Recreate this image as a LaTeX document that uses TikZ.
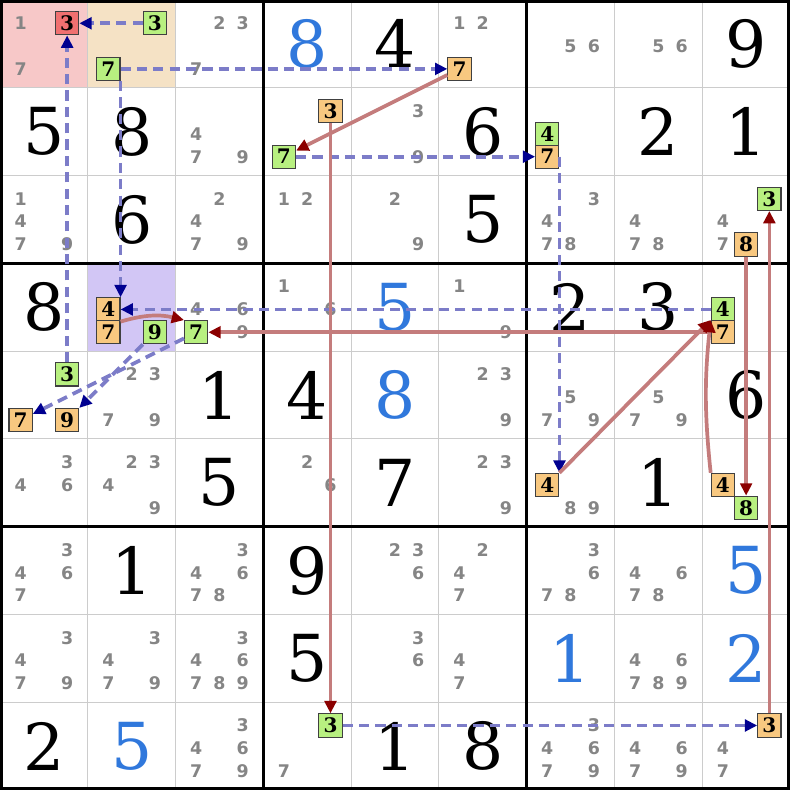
\documentclass[tikz,border=0pt]{standalone}
\usepackage{fontspec}
\newfontfamily\bigf{DejaVu Serif}
\newfontfamily\candf{DejaVu Sans}
\newfontfamily\boxf{DejaVu Serif}
\usetikzlibrary{arrows.meta}
\definecolor{candgray}{HTML}{858585}
\definecolor{solblue}{HTML}{3078DC}
\definecolor{gboxc}{HTML}{B8F080}
\definecolor{oboxc}{HTML}{F8C880}
\definecolor{rboxc}{HTML}{F07070}
\definecolor{pinkbg}{HTML}{F7C8C8}
\definecolor{tanbg}{HTML}{F5E2C5}
\definecolor{purpbg}{HTML}{D2C6F5}
\definecolor{linkblue}{HTML}{7C7CC8}
\definecolor{tipblue}{HTML}{000090}
\definecolor{linkred}{HTML}{C47C7C}
\definecolor{tipred}{HTML}{8B0000}
\definecolor{thingray}{HTML}{CCCCCC}
\tikzset{
  cand/.style={font=\candf\bfseries\fontsize{5.65}{6}\selectfont, text=candgray, inner sep=0pt},
  giv/.style={font=\bigf\fontsize{21}{21}\selectfont, inner sep=0pt},
  sol/.style={giv, text=solblue},
  cbox/.style={draw=black!75, line width=0.35pt, minimum size=0.265cm, inner sep=0pt, font=\boxf\bfseries\fontsize{6.5}{7}\selectfont},
  gbox/.style={cbox, fill=gboxc},
  obox/.style={cbox, fill=oboxc},
  rbox/.style={cbox, fill=rboxc},
  wlink/.style={linkblue, line width=1.2pt, dash pattern=on 3.3pt off 2pt, -{Triangle[length=4pt,width=3.8pt,color=tipblue]}},
  slink/.style={linkred, line width=1.2pt, -{Triangle[length=4pt,width=3.8pt,color=tipred]}}
}
\newcommand\cands[3]{\foreach \d in {#3}{\node[cand] (k#1#2\d) at ({#2+0.235+0.265*mod(\d-1,3)},{-(#1+0.265+0.26*int((\d-1)/3))}) {\d};}}
\newcommand\cbx[5]{\node[#1] (#2) at ({#4+0.235+0.265*mod(#5-1,3)},{-(#3+0.265+0.26*int((#5-1)/3))}) {#5};}
\newcommand\givd[3]{\node[giv] (g#1#2) at ({#2+0.5},{-(#1+0.5)}) {#3};}
\newcommand\sold[3]{\node[sol] (s#1#2) at ({#2+0.5},{-(#1+0.5)}) {#3};}
\begin{document}
\begin{tikzpicture}
\useasboundingbox (0,0) rectangle (9,-9);
\fill[white] (0,0) rectangle (9,-9);
% backgrounds
\fill[pinkbg] (0,0) rectangle (1,-1);
\fill[tanbg] (1,0) rectangle (2,-1);
\fill[purpbg] (1,-3) rectangle (2,-4);
% grid
\foreach \i in {1,2,4,5,7,8}{
  \draw[thingray, line width=0.35pt] (\i,0) -- (\i,-9);
  \draw[thingray, line width=0.35pt] (0,-\i) -- (9,-\i);
}
\foreach \i in {3,6}{
  \draw[black, line width=0.9pt] (\i,0) -- (\i,-9);
  \draw[black, line width=0.9pt] (0,-\i) -- (9,-\i);
}
\draw[black, line width=2pt] (0,0) rectangle (9,-9);
% row 0
\cands{0}{0}{1,7}
\cbx{rbox}{b003}{0}{0}{3}
\cbx{gbox}{b013}{0}{1}{3}
\cbx{gbox}{b017}{0}{1}{7}
\cands{0}{2}{2,3,7}
\sold{0}{3}{8}
\givd{0}{4}{4}
\cands{0}{5}{1,2}
\cbx{obox}{b057}{0}{5}{7}
\cands{0}{6}{5,6}
\cands{0}{7}{5,6}
\givd{0}{8}{9}
% row 1
\givd{1}{0}{5}
\givd{1}{1}{8}
\cands{1}{2}{4,7,9}
\cbx{obox}{b133}{1}{3}{3}
\cbx{gbox}{b137}{1}{3}{7}
\cands{1}{4}{3,9}
\givd{1}{5}{6}
\cbx{gbox}{b164}{1}{6}{4}
\cbx{obox}{b167}{1}{6}{7}
\givd{1}{7}{2}
\givd{1}{8}{1}
% row 2
\cands{2}{0}{1,4,7,9}
\givd{2}{1}{6}
\cands{2}{2}{2,4,7,9}
\cands{2}{3}{1,2}
\cands{2}{4}{2,9}
\givd{2}{5}{5}
\cands{2}{6}{3,4,7,8}
\cands{2}{7}{4,7,8}
\cands{2}{8}{4,7}
\cbx{gbox}{b283}{2}{8}{3}
\cbx{obox}{b288}{2}{8}{8}
% row 3
\givd{3}{0}{8}
\cbx{obox}{b314}{3}{1}{4}
\cbx{obox}{b317}{3}{1}{7}
\cbx{gbox}{b319}{3}{1}{9}
\cands{3}{2}{4,6,9}
\cbx{gbox}{b327}{3}{2}{7}
\cands{3}{3}{1,6}
\sold{3}{4}{5}
\cands{3}{5}{1,9}
\givd{3}{6}{2}
\givd{3}{7}{3}
\cbx{gbox}{b384}{3}{8}{4}
\cbx{obox}{b387}{3}{8}{7}
% row 4
\cbx{gbox}{b403}{4}{0}{3}
\cbx{obox}{b407}{4}{0}{7}
\cbx{obox}{b409}{4}{0}{9}
\cands{4}{1}{2,3,7,9}
\givd{4}{2}{1}
\givd{4}{3}{4}
\sold{4}{4}{8}
\cands{4}{5}{2,3,9}
\cands{4}{6}{5,7,9}
\cands{4}{7}{5,7,9}
\givd{4}{8}{6}
% row 5
\cands{5}{0}{3,4,6}
\cands{5}{1}{2,3,4,9}
\givd{5}{2}{5}
\cands{5}{3}{2,6}
\givd{5}{4}{7}
\cands{5}{5}{2,3,9}
\cbx{obox}{b564}{5}{6}{4}
\cands{5}{6}{8,9}
\givd{5}{7}{1}
\cbx{obox}{b584}{5}{8}{4}
\cbx{gbox}{b588}{5}{8}{8}
% row 6
\cands{6}{0}{3,4,6,7}
\givd{6}{1}{1}
\cands{6}{2}{3,4,6,7,8}
\givd{6}{3}{9}
\cands{6}{4}{2,3,6}
\cands{6}{5}{2,4,7}
\cands{6}{6}{3,6,7,8}
\cands{6}{7}{4,6,7,8}
\sold{6}{8}{5}
% row 7
\cands{7}{0}{3,4,7,9}
\cands{7}{1}{3,4,7,9}
\cands{7}{2}{3,4,6,7,8,9}
\givd{7}{3}{5}
\cands{7}{4}{3,6}
\cands{7}{5}{4,7}
\sold{7}{6}{1}
\cands{7}{7}{4,6,7,8,9}
\sold{7}{8}{2}
% row 8
\givd{8}{0}{2}
\sold{8}{1}{5}
\cands{8}{2}{3,4,6,7,9}
\cbx{gbox}{b833}{8}{3}{3}
\cands{8}{3}{7}
\givd{8}{4}{1}
\givd{8}{5}{8}
\cands{8}{6}{3,4,6,7,9}
\cands{8}{7}{4,6,7,9}
\cbx{obox}{b883}{8}{8}{3}
\cands{8}{8}{4,7}
% weak links
\draw[wlink] (b013) -- (b003);
\draw[wlink] (b017) -- (b057);
\draw[wlink] (b017.south east) -- (b314.north east);
\draw[wlink] (b403) -- (b003);
\draw[wlink] (b137) -- (b167);
\draw[wlink] (b167.east) -- (b564.north east);
\draw[wlink] (b384) -- (b314);
\draw[wlink] (b319) -- (b409);
\draw[wlink] (b327) -- (b407);
\draw[wlink] (b833) -- (b883);
% strong links
\draw[slink] (b057) -- (b137);
\draw[slink] (b133) -- (b833);
\draw[slink] (b314.south east) to[bend left=15] (b327.north west);
\draw[slink] (b387) -- (b327);
\draw[slink] (b564.north east) -- (b387.north west);
\draw[slink] (b584.north west) to[bend left=6] (b387.north west);
\draw[slink] (b288) -- (b588);
\draw[slink] (b883) -- (b283);
\end{tikzpicture}
\end{document}
